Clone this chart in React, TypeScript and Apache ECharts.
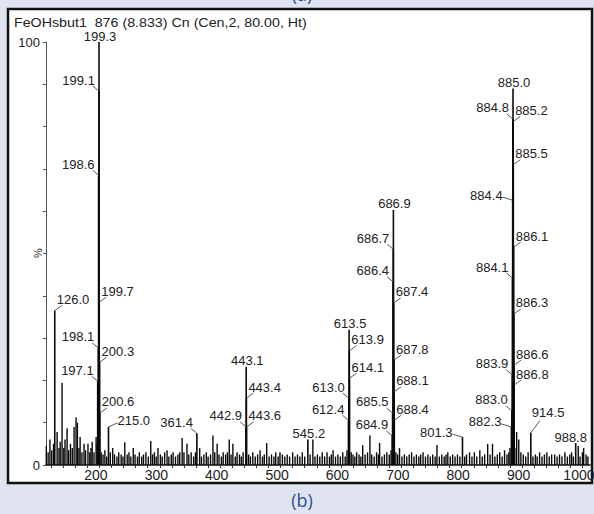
import React, { useEffect, useRef } from "react";
import * as echarts from "echarts";

const titleText = "FeOHsbut1\u00a0\u00a0876 (8.833) Cn (Cen,2, 80.00, Ht)";
const xTickLabels = [200, 300, 400, 500, 600, 700, 800, 900, 1000];
const yTickLabels = [0, 100];
const yTicks = [0, 10, 20, 30, 40, 50, 60, 70, 80, 90, 100];

// labelled peaks: text (= m/z), relative intensity (%), label placement
const labelText = [
  "126.0", "199.3", "199.1", "198.6", "199.7", "198.1", "200.3", "197.1", "200.6", "215.0",
  "361.4", "443.1", "443.4", "442.9", "443.6", "545.2", "613.5", "613.9", "614.1", "613.0",
  "612.4", "686.9", "686.7", "686.4", "687.4", "687.8", "688.1", "685.5", "688.4", "684.9",
  "801.3", "885.0", "884.8", "885.2", "885.5", "884.4", "886.1", "884.1", "886.3", "886.6",
  "883.9", "886.8", "883.0", "882.3", "914.5", "988.8",
];
const labelIntensity = [
  36.5, 100, 88.4, 68.5, 38.5, 27.7, 24.3, 19.8, 12.3, 9,
  7.5, 23.2, 15.8, 9, 9, 6, 32, 27, 20.5, 15.8,
  10.6, 60.3, 51, 43.3, 38.3, 24.8, 17.3, 12.3, 10.6, 6.9,
  6.6, 89, 81.8, 81.2, 71, 62.6, 51.5, 44.2, 35.7, 23.6,
  21.3, 18.9, 12.8, 9, 7.6, 5.2,
];
const labelSide = [
  "R", "T", "L", "L", "R", "L", "R", "L", "R", "R2",
  "L", "T", "R", "L", "R", "T", "T", "R", "R", "L",
  "L", "T", "L", "L", "R", "R", "R", "L", "R", "L",
  "LH", "T", "L", "R", "R", "LH", "R", "L", "R", "R",
  "L", "R", "L", "LH", "R3", "TL",
];

// unlabelled peaks and baseline noise: [m/z, %]
const noisePeaks: [number, number][] = [
  [112, 4.5], [115, 3], [118, 6], [121, 3.5], [124, 5], [129.9, 7.8], [133, 4], [135, 5.5], [138.1, 19.4], [141, 4],
  [143, 6], [146.4, 8.7], [149, 3.5], [152, 5], [155, 4], [158, 9], [161.3, 11.3], [163.5, 10], [166, 4], [168, 6.6],
  [171, 3], [174.5, 5], [177, 3.5], [181, 5], [184, 3], [186, 4], [188, 5.5], [191, 3], [194.5, 6.6], [196, 5],
  [203, 3], [206, 2.5], [209, 3.5], [212, 2], [218, 3], [222, 4], [225, 2.5], [229, 2], [232, 3], [236, 2.5],
  [239, 2], [242, 5.4], [246, 2.5], [249, 3], [252, 2], [256, 4], [259, 2.5], [263, 2], [266, 3], [270, 2],
  [273, 2.5], [277, 3], [281, 2], [285, 5.7], [288, 2.5], [291, 3], [294, 2], [297, 4], [301, 2.5], [304, 2],
  [308, 3], [312, 3.5], [315, 2], [319, 2.5], [322, 3], [326, 2], [330, 2.5], [333, 3], [337, 6.4], [340, 3],
  [345, 5], [348, 2.5], [352, 3], [356, 2], [359, 3], [366, 4], [369, 2], [373, 2.5], [377, 3], [380, 2],
  [384, 2.5], [388, 7], [391, 3], [395, 5], [398, 2.5], [402, 2], [405, 3], [409, 2.5], [412, 3], [415, 6],
  [418, 2.5], [421, 5], [425, 2], [428, 3], [432, 2.5], [435, 2], [438, 3], [447, 2.5], [450, 2], [454, 3],
  [458, 2], [462, 2.5], [466, 3.5], [470, 2], [473, 2.5], [477, 5.2], [481, 2], [485, 2.5], [489, 2], [492, 3],
  [496, 2], [499, 3], [503, 2.5], [507, 2], [511, 2.5], [515, 2], [520, 3], [524, 2], [528, 2.5], [532, 2],
  [536, 3], [540, 2], [549, 2.5], [553.5, 6], [557, 2], [561, 2.5], [565, 2], [569, 3], [573, 2], [577, 3],
  [581, 2], [584, 2.5], [587, 3.5], [591, 2], [595, 2.5], [599, 2], [603, 3], [607, 2], [610, 3.5], [617, 3],
  [620, 2.5], [623, 2], [626, 3], [630, 2.5], [633, 2], [636, 4.7], [640, 2.5], [644, 3], [648, 7], [651, 2.5],
  [655, 2], [659, 3], [662, 2.5], [664, 5.2], [668, 2], [672, 2.5], [676, 3], [680, 2.5], [683, 3.5], [691, 3],
  [694, 2.5], [697, 4], [701, 2], [705, 2.5], [709, 2], [713, 2.5], [717, 3], [721, 2], [725, 2.5], [729, 2],
  [732, 2.5], [736, 3], [740, 2], [744, 2.5], [748, 2], [752, 2.5], [756, 2], [759, 4.7], [763, 2], [767, 2.5],
  [771, 2], [774, 2.5], [777, 3], [781, 2], [785, 2.5], [789, 2], [793, 2.5], [797, 2], [805, 2], [808, 2.5],
  [813, 3], [817, 2], [821, 3], [825, 2], [830, 3.5], [834, 2], [838, 2.5], [843, 5], [847, 2.5], [851, 5],
  [855, 2], [859, 2.5], [863, 3], [867, 2], [871, 3.5], [875, 2.5], [878, 3], [880, 4], [888, 4], [891, 7.8],
  [894.5, 6], [898, 3], [902, 2.5], [906, 2], [910, 3], [918, 2], [922, 2.5], [925, 2], [929, 3], [933, 2],
  [937, 2.5], [941, 3], [945, 2], [949, 2.5], [954, 2.5], [958, 2], [962, 2.5], [966, 2], [971, 3], [975, 2],
  [979, 2.5], [982, 3], [985, 2], [993, 4.5], [996, 2], [1000, 3], [1002, 4], [1006, 2.5], [1009, 2],
];

const FONT = "'Liberation Sans', Arial, Helvetica, sans-serif";
const TEXT_COLOR = "#222";

export default function App() {
  const ref = useRef<HTMLDivElement>(null);

  useEffect(() => {
    if (!ref.current) return;
    const chart = echarts.init(ref.current, null, { renderer: "svg" });

    const labelled = labelText.map((t, i) => [Number(t), labelIntensity[i]]);
    const noiseData = noisePeaks.map((p) => [p[0], p[1]]);
    const xMinorTicks: number[] = [];
    for (let v = 120; v <= 1000; v += 20) xMinorTicks.push(v);

    const stickRenderer = (width: number) => (params: any, api: any) => {
      const top = api.coord([api.value(0), api.value(1)]);
      const base = api.coord([api.value(0), 0]);
      return {
        type: "line",
        shape: { x1: top[0], y1: base[1], x2: top[0], y2: top[1] },
        style: { stroke: "#0a0a0a", lineWidth: width },
      };
    };

    const labelRenderer = (params: any, api: any) => {
      const i = params.dataIndex;
      const p = api.coord([api.value(0), api.value(1)]);
      const x = p[0];
      const y = p[1];
      const side = labelSide[i];
      const text = labelText[i];
      const font = `13px ${FONT}`;
      const mk = (tx: number, ty: number, align: string) => ({
        type: "text",
        x: tx,
        y: ty,
        style: {
          text,
          font,
          fill: TEXT_COLOR,
          align,
          verticalAlign: "middle",
          textAlign: align,
          textVerticalAlign: "middle",
        },
      });
      const ln = (x1: number, y1: number, x2: number, y2: number) => ({
        type: "line",
        shape: { x1, y1, x2, y2 },
        style: { stroke: "#444", lineWidth: 0.9 },
      });
      if (side === "T") {
        return { type: "group", children: [mk(x + 1, y - 6, "center")] };
      }
      if (side === "TL") {
        return { type: "group", children: [mk(x - 5, y - 6, "center")] };
      }
      if (side === "L") {
        return { type: "group", children: [ln(x - 6, y - 5, x, y), mk(x - 4, y - 11, "right")] };
      }
      if (side === "LH") {
        return { type: "group", children: [ln(x - 10, y - 3, x, y), mk(x - 10, y - 5, "right")] };
      }
      if (side === "R") {
        return { type: "group", children: [ln(x, y, x + 7, y - 5), mk(x + 2, y - 11, "left")] };
      }
      if (side === "R2") {
        return { type: "group", children: [ln(x, y, x + 9, y - 4), mk(x + 9, y - 6, "left")] };
      }
      // R3
      return { type: "group", children: [ln(x, y, x + 9, y - 12), mk(x + 1, y - 20, "left")] };
    };

    const textStyle = (text: string, font: string, fill: string, align: string) => ({
      text,
      font,
      fill,
      align,
      verticalAlign: "middle",
      textAlign: align,
      textVerticalAlign: "middle",
    });

    const option: any = {
      animation: false,
      backgroundColor: "#dfe4f0",
      grid: { left: 46, right: 4, top: 42, bottom: 49, containLabel: false, outerBoundsMode: "none" },
      xAxis: {
        type: "value",
        min: 111.5,
        max: 1012.5,
        axisLine: { show: true, lineStyle: { color: "#111", width: 1.5 } },
        axisTick: { show: true, length: 3, inside: false, customValues: xMinorTicks, lineStyle: { color: "#333", width: 1 } },
        axisLabel: {
          show: true,
          customValues: xTickLabels,
          formatter: (v: number) => String(v),
          fontSize: 14,
          fontFamily: FONT,
          color: TEXT_COLOR,
          margin: 3,
          padding: [0, 7, 0, 0],
        },
        splitLine: { show: false },
      },
      yAxis: {
        type: "value",
        min: 0,
        max: 100,
        axisLine: { show: true, lineStyle: { color: "#555", width: 1 } },
        axisTick: { show: true, length: 3, inside: false, customValues: yTicks, lineStyle: { color: "#555", width: 1 } },
        axisLabel: {
          show: true,
          customValues: yTickLabels,
          formatter: (v: number) => String(v),
          fontSize: 13,
          fontFamily: FONT,
          color: TEXT_COLOR,
          margin: 6,
        },
        splitLine: { show: false },
      },
      graphic: [
        {
          type: "rect",
          z: -100,
          shape: { x: 8, y: 9, width: 584, height: 474 },
          style: { fill: "#ffffff", stroke: "#111", lineWidth: 2.5 },
        },
        {
          type: "text",
          z: 100,
          x: 14,
          y: 23,
          scaleX: 1.14,
          style: textStyle(titleText, `12.5px ${FONT}`, TEXT_COLOR, "left"),
        },
        {
          type: "text",
          z: 100,
          x: 38,
          y: 253,
          rotation: Math.PI / 2,
          style: textStyle("%", `11px ${FONT}`, TEXT_COLOR, "center"),
        },
        {
          type: "text",
          z: 100,
          x: 302,
          y: -6,
          style: textStyle("(a)", `18px 'Open Sans', 'Noto Sans', sans-serif`, "#2c4f90", "center"),
        },
        {
          type: "text",
          z: 100,
          x: 302,
          y: 500,
          style: textStyle("(b)", `18px 'Open Sans', 'Noto Sans', sans-serif`, "#2c4f90", "center"),
        },
      ],
      series: [
        {
          type: "custom",
          name: "noise",
          coordinateSystem: "cartesian2d",
          renderItem: stickRenderer(1.4),
          encode: { x: 0, y: 1 },
          data: noiseData,
          silent: true,
          z: 2,
        },
        {
          type: "custom",
          name: "peaks",
          coordinateSystem: "cartesian2d",
          renderItem: stickRenderer(1.6),
          encode: { x: 0, y: 1 },
          data: labelled,
          silent: true,
          z: 3,
        },
        {
          type: "custom",
          name: "labels",
          coordinateSystem: "cartesian2d",
          renderItem: labelRenderer,
          encode: { x: 0, y: 1 },
          data: labelled,
          clip: false,
          silent: true,
          z: 4,
        },
      ],
    };

    chart.setOption(option);
    return () => chart.dispose();
  }, []);

  return (
    <div
      ref={ref}
      style={{ position: "fixed", left: 0, top: 0, width: 594, height: 514 }}
    />
  );
}
